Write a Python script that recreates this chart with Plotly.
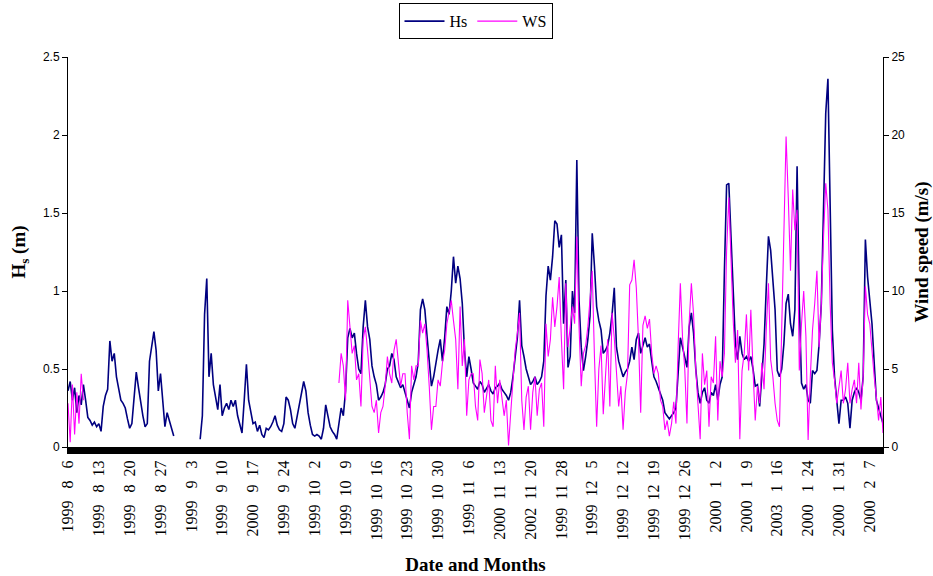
import plotly.graph_objects as go

# ---------------- data (readings every 0.5 day, rows of 10 days) ----------------
STEP = 0.5
ROW_STARTS = [0, 10, 20, 30, 40, 50, 60, 70, 80, 90, 100, 110, 120, 130, 140, 150, 160, 170, 180]

hs_rows = [
    [0.36, 0.42, 0.30, 0.38, 0.22, 0.33, 0.27, 0.40, 0.30, 0.19, 0.17, 0.14, 0.16, 0.13, 0.15, 0.10, 0.26, 0.33, 0.37, 0.68],
    [0.55, 0.60, 0.45, 0.38, 0.30, 0.28, 0.25, 0.18, 0.12, 0.15, 0.30, 0.48, 0.38, 0.28, 0.20, 0.13, 0.15, 0.55, 0.65, 0.74],
    [0.62, 0.36, 0.47, 0.30, 0.13, 0.22, 0.17, 0.12, 0.07, None, None, None, None, None, None, None, None, None, None, None],
    [0.05, 0.20, 0.85, 1.08, 0.45, 0.60, 0.40, 0.33, 0.24, 0.40, 0.20, 0.25, 0.28, 0.24, 0.30, 0.26, 0.30, 0.20, 0.15, 0.09],
    [0.30, 0.53, 0.30, 0.22, 0.15, 0.16, 0.10, 0.14, 0.08, 0.06, 0.12, 0.11, 0.13, 0.16, 0.20, 0.14, 0.11, 0.10, 0.15, 0.32],
    [0.30, 0.24, 0.15, 0.12, 0.20, 0.26, 0.35, 0.42, 0.36, 0.22, 0.14, 0.08, 0.07, 0.08, 0.07, 0.05, 0.12, 0.27, 0.20, 0.13],
    [0.10, 0.08, 0.05, 0.15, 0.25, 0.20, 0.36, 0.70, 0.76, 0.70, 0.73, 0.60, 0.50, 0.47, 0.77, 0.94, 0.77, 0.69, 0.52, 0.45],
    [0.40, 0.30, 0.32, 0.35, 0.40, 0.50, 0.52, 0.60, 0.56, 0.45, 0.42, 0.38, 0.40, 0.35, 0.30, 0.25, 0.35, 0.40, 0.45, 0.54],
    [0.88, 0.95, 0.88, 0.71, 0.52, 0.39, 0.45, 0.55, 0.62, 0.69, 0.55, 0.70, 0.90, 0.85, 1.00, 1.22, 1.05, 1.16, 1.08, 0.92],
    [0.62, 0.45, 0.58, 0.50, 0.41, 0.39, 0.37, 0.42, 0.40, 0.35, 0.38, 0.40, 0.36, 0.34, 0.38, 0.39, 0.41, 0.37, 0.35, 0.33],
    [0.30, 0.35, 0.45, 0.58, 0.70, 0.94, 0.65, 0.58, 0.50, 0.45, 0.40, 0.42, 0.45, 0.40, 0.42, 0.45, 0.55, 0.97, 1.16, 1.07],
    [1.22, 1.45, 1.43, 1.28, 1.36, 0.79, 1.07, 0.51, 0.58, 1.00, 0.86, 1.84, 0.94, 0.64, 0.49, 0.58, 0.69, 0.84, 1.37, 1.16],
    [0.90, 0.81, 0.75, 0.60, 0.62, 0.65, 0.73, 0.85, 1.02, 0.64, 0.55, 0.50, 0.45, 0.48, 0.50, 0.55, 0.64, 0.56, 0.69, 0.73],
    [0.60, 0.65, 0.70, 0.64, 0.66, 0.55, 0.45, 0.42, 0.38, 0.35, 0.30, 0.22, 0.20, 0.18, 0.20, 0.22, 0.25, 0.50, 0.70, 0.64],
    [0.58, 0.51, 0.77, 0.86, 0.73, 0.50, 0.35, 0.28, 0.35, 0.38, 0.30, 0.28, 0.35, 0.33, 0.40, 0.30, 0.40, 0.45, 1.13, 1.68],
    [1.69, 1.35, 0.92, 0.66, 0.56, 0.71, 0.60, 0.56, 0.58, 0.55, 0.58, 0.50, 0.39, 0.40, 0.26, 0.45, 0.66, 1.02, 1.35, 1.26],
    [1.05, 0.88, 0.49, 0.45, 0.50, 0.66, 0.92, 0.98, 0.79, 0.71, 0.88, 1.80, 0.92, 0.41, 0.37, 0.40, 0.30, 0.28, 0.49, 0.47],
    [0.49, 0.66, 0.92, 1.56, 2.14, 2.36, 1.50, 0.75, 0.45, 0.32, 0.15, 0.30, 0.30, 0.32, 0.28, 0.12, 0.30, 0.35, 0.38, 0.35],
    [0.30, 0.45, 1.33, 1.09, 0.94, 0.79, 0.54, 0.30, 0.25, 0.20, 0.15],
]

ws_rows = [
    [2.8, 0.3, 4.0, 0.8, 3.5, 1.5, 4.7, 3.0],
    [],
    [],
    [],
    [],
    [],
    [None, None, None, 4.1, 6.0, 5.2, 3.0, 9.4, 7.7, 6.0, 6.5, 4.3, 4.7, 2.6, 6.9, 7.7, 6.2, 4.3, 2.6, 2.2],
    [3.0, 0.9, 2.2, 2.6, 3.9, 5.8, 4.7, 4.1, 6.2, 6.9, 5.2, 3.9, 4.7, 4.7, 2.2, 0.5, 5.2, 4.3, 5.2, 5.2],
    [8.1, 7.3, 7.9, 6.2, 3.9, 1.1, 2.6, 2.6, 4.3, 3.9, 5.4, 6.2, 7.9, 8.8, 9.4, 8.1, 6.9, 3.7, 9.0, 5.2],
    [6.9, 2.0, 4.3, 4.7, 4.7, 2.6, 1.7, 5.6, 4.7, 2.2, 3.2, 4.3, 1.7, 1.3, 5.2, 2.8, 4.3, 3.0, 2.0, 3.0],
    [0.1, 2.2, 4.1, 6.2, 7.3, 8.6, 3.0, 1.1, 3.2, 3.9, 1.1, 3.5, 4.5, 2.0, 3.7, 4.1, 1.3, 7.9, 5.8, 6.9],
    [9.6, 7.7, 9.0, 10.9, 6.9, 3.7, 10.5, 6.4, 7.7, 9.0, 7.9, 13.5, 7.7, 3.9, 6.0, 6.5, 7.7, 9.4, 11.3, 5.8],
    [1.3, 5.0, 6.5, 2.1, 4.7, 6.9, 2.6, 8.6, 7.0, 4.7, 2.6, 3.9, 1.1, 3.5, 4.7, 10.4, 10.7, 12.0, 10.2, 6.9],
    [2.2, 7.8, 8.4, 7.6, 8.2, 6.0, 4.7, 5.2, 4.7, 3.0, 2.6, 1.1, 1.7, 0.7, 1.5, 2.9, 1.5, 6.5, 10.5, 7.0],
    [5.0, 1.5, 8.0, 10.5, 8.5, 5.0, 2.6, 0.5, 6.0, 4.0, 4.9, 1.3, 4.5, 4.1, 7.1, 1.7, 5.5, 4.5, 6.0, 12.6],
    [16.0, 11.3, 8.1, 5.4, 7.5, 0.5, 4.9, 6.0, 8.5, 4.9, 8.8, 4.9, 1.7, 3.9, 2.8, 5.4, 3.7, 7.5, 10.5, 5.6],
    [4.5, 2.8, 1.7, 1.3, 7.1, 14.8, 19.9, 16.0, 11.3, 16.5, 13.9, 15.2, 4.9, 7.9, 10.0, 7.1, 0.45, 4.5, 7.5, 9.2],
    [11.3, 6.4, 9.2, 13.5, 16.9, 15.2, 9.2, 5.4, 4.3, 2.8, 3.7, 4.9, 2.8, 3.7, 5.4, 2.8, 3.7, 4.3, 2.8, 5.4],
    [2.4, 4.5, 10.3, 8.5, 7.9, 6.0, 4.5, 3.2, 1.7, 3.2, 0.9],
]

tick_days = [0, 7, 14, 21, 28, 35, 42, 49, 56, 63, 70, 77, 84, 91, 98, 105, 112,
             119, 126, 133, 140, 147, 154, 161, 168, 175, 182]
tick_labels = ["1999 8 6", "1999 8 13", "1999 8 20", "1999 8 27", "1999 9 3", "1999 9 10",
               "2000 9 17", "1999 9 24", "1999 10 2", "1999 10 9", "1999 10 16", "1999 10 23",
               "1999 10 30", "1999 11 6", "2000 11 13", "2002 11 20", "1999 11 28", "1999 12 5",
               "1999 12 12", "1999 12 19", "1999 12 26", "2000 1 2", "2000 1 9", "2003 1 16",
               "2000 1 24", "2000 1 31", "2000 2 7"]


def series(rows):
    xs, ys = [], []
    for start, row in zip(ROW_STARTS, rows):
        if not row:
            xs.append(start)
            ys.append(None)
        for i, v in enumerate(row):
            xs.append(start + i * STEP)
            ys.append(v)
    return xs, ys


hs_x, hs_y = series(hs_rows)
ws_x, ws_y = series(ws_rows)

EN = "\u2002"
NB = "\u00a0"


def fmt_label(t):
    parts = t.split(" ")
    out = parts[0]
    for p in parts[1:]:
        out += (NB + EN if len(p) == 1 else EN) + p
    return out


ticktext = [fmt_label(t) for t in tick_labels]

SERIF = "Liberation Serif, Times New Roman, serif"
SANS = "Liberation Sans, Arial, sans-serif"

fig = go.Figure()
fig.add_trace(go.Scatter(x=hs_x, y=hs_y, name="Hs", mode="lines",
                         line=dict(color="#000080", width=1.6), connectgaps=False))
fig.add_trace(go.Scatter(x=ws_x, y=ws_y, name="WS", mode="lines", yaxis="y2",
                         line=dict(color="#FF00FF", width=1.1), connectgaps=False))

fig.update_layout(
    width=933, height=576,
    margin=dict(l=68, r=50, t=57, b=129, autoexpand=False),
    paper_bgcolor="white", plot_bgcolor="white",
    showlegend=True,
    legend=dict(orientation="h", x=0.5, xanchor="center", y=1.138, yanchor="top",
                bordercolor="black", borderwidth=1, bgcolor="white",
                font=dict(family=SERIF, size=16, color="black"),
                itemwidth=40, tracegroupgap=0),
    xaxis=dict(range=[0, 185], tickmode="array", tickvals=tick_days, ticktext=ticktext,
               tickangle=-90, tickfont=dict(family=SERIF, size=16, color="black"),
               showline=True, linecolor="black", linewidth=1,
               ticks="outside", ticklen=6, tickwidth=2, tickcolor="black",
               minor=dict(tickmode="linear", tick0=0, dtick=0.25, ticks="outside",
                          ticklen=6, tickwidth=2, tickcolor="black", showgrid=False),
               showgrid=False, zeroline=False, automargin=False,
               title=dict(text="<b>Date and Months</b>", standoff=18,
                          font=dict(family=SERIF, size=19, color="black"))),
    yaxis=dict(range=[0, 2.5], dtick=0.5, tick0=0, showline=True, linecolor="black",
               linewidth=1, ticks="outside", ticklen=5, tickcolor="black",
               tickfont=dict(family=SANS, size=12, color="black"),
               showgrid=False, zeroline=False, automargin=False,
               title=dict(text="<b>H<sub>s</sub> (m)</b>", standoff=12,
                          font=dict(family=SERIF, size=19, color="black"))),
    yaxis2=dict(range=[0, 25], dtick=5, tick0=0, overlaying="y", side="right",
                showline=True, linecolor="black", linewidth=1, ticks="outside",
                ticklen=5, tickcolor="black",
                tickfont=dict(family=SANS, size=12, color="black"),
                showgrid=False, zeroline=False, automargin=False,
                title=dict(text="<b>Wind speed (m/s)</b>", standoff=12,
                           font=dict(family=SERIF, size=19, color="black"))),
)

fig.write_html("out.html")
